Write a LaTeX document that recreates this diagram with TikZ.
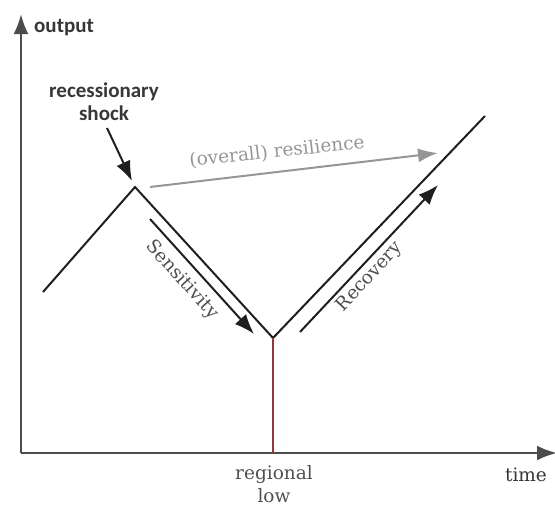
\documentclass[tikz,border=0pt]{standalone}
\usepackage{fontspec}
\setmainfont{DejaVu Serif}
\newfontfamily\carl{Carlito}
\usetikzlibrary{arrows.meta}
\definecolor{txtdark}{RGB}{55,55,55}
\definecolor{txtmid}{RGB}{80,80,80}
\definecolor{resgray}{RGB}{150,150,150}
\definecolor{lowred}{RGB}{150,55,60}
\tikzset{
  axis/.style={line width=2.6pt, draw=black!70, -{Latex[length=20pt,width=15pt]}},
  curve/.style={line width=2pt, draw=black!88},
  annot/.style={line width=2pt, draw=black!88, -{Latex[length=20pt,width=15pt]}},
  resarrow/.style={line width=2pt, draw=resgray, -{Latex[length=20pt,width=14pt]}},
  sanslabel/.style={font=\carl\bfseries\fontsize{21}{23}\selectfont, text=txtdark, inner sep=0pt},
  seriflabel/.style={font=\fontsize{18.5}{23}\selectfont, text=txtmid, inner sep=0pt}
}
\begin{document}
\begin{tikzpicture}[x=1pt,y=-1pt]
\useasboundingbox (0,0) rectangle (555,506);
% axes
\coordinate (O) at (21,453);
\coordinate (Ytop) at (21,14);
\coordinate (Xend) at (557,453);
\draw[axis] (O) -- (Ytop);
\draw[axis] (O) -- (Xend);
\node[sanslabel, anchor=west] (outlbl) at (34,28) {output};
\node[seriflabel, text=txtdark] (timelbl) at (526,475) {time};
\node[seriflabel, align=center, anchor=north] (lowlbl) at (274,465) {regional\\low};
% curve
\coordinate (start) at (43,292);
\coordinate (peak) at (135,187);
\coordinate (low) at (273,338);
\coordinate (fin) at (485,116);
\draw[curve] (start) -- (peak) -- (low) -- (fin);
\draw[line width=2pt, draw=lowred] (low) -- (low |- O);
% recessionary shock
\node[sanslabel, align=center] (shock) at (104,102) {recessionary\\shock};
\coordinate (shockA) at (107,128);
\coordinate (shockB) at (132,181);
\draw[annot] (shockA) -- (shockB);
% resilience
\coordinate (resA) at (150,187);
\coordinate (resB) at (438,153);
\draw[resarrow] (resA) -- (resB);
\node[seriflabel, text=resgray, rotate=6] (reslbl) at (277,152) {(overall) resilience};
% sensitivity
\coordinate (senA) at (150,219);
\coordinate (senB) at (254,334);
\draw[annot] (senA) -- (senB);
\node[seriflabel, rotate=-48] (senlbl) at (182,280) {Sensitivity};
% recovery
\coordinate (recA) at (300,332);
\coordinate (recB) at (438,185);
\draw[annot] (recA) -- (recB);
\node[seriflabel, rotate=47] (reclbl) at (370,277) {Recovery};
\end{tikzpicture}
\end{document}
